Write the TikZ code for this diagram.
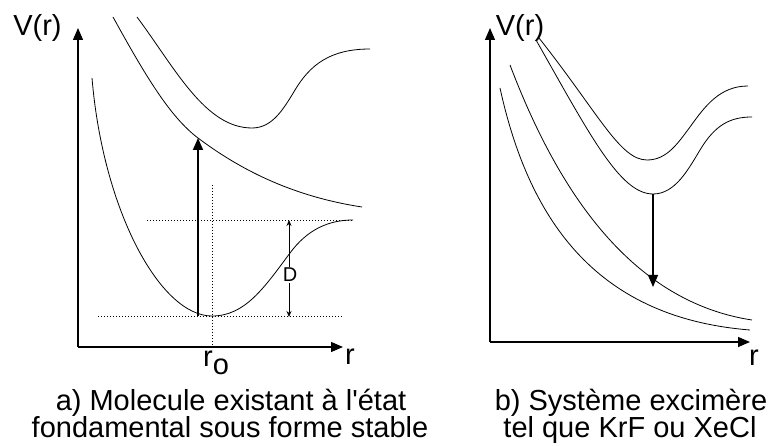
\documentclass[tikz,border=0pt]{standalone}
\usepackage{fontspec}
\setmainfont{Liberation Sans}
\newfontfamily\lsans{Liberation Sans}
\usetikzlibrary{arrows.meta}
\begin{document}
\begin{tikzpicture}[x=1pt,y=-1pt,
  curve/.style={line width=0.8pt},
  axis/.style={line width=1.1pt,-{Triangle[length=12pt,width=10pt]}},
  guide/.style={line width=0.8pt, dash pattern=on 1pt off 2pt},
  lbl/.style={font=\lsans\fontsize{29}{29}\selectfont, inner sep=0pt, anchor=base},
  captxt/.style={font=\lsans\fontsize{29}{29}\selectfont, inner sep=0pt, anchor=base},
  trans/.style={-{Triangle[length=12pt,width=10pt]}},
]
\useasboundingbox (0,0) rectangle (769,446);

% ---------- left panel ----------
\coordinate (O1) at (78,347);
\coordinate (Y1) at (78,28);
\coordinate (X1) at (343,347);
\draw[axis] (O1) -- (Y1);
\draw[axis] (O1) -- (X1);
\node[lbl] (V1) at (37.5,36) {V(r)};
\node[lbl] (R1) at (350,365) {r};
\node[lbl] (r0) at (216,367) {r\raisebox{-8pt}{o}};

% guides
\coordinate (g1a) at (147,220); \coordinate (g1b) at (353,220);
\coordinate (g2a) at (98,316);  \coordinate (g2b) at (343,316);
\coordinate (g3a) at (212,185); \coordinate (g3b) at (212,345);
\draw[guide] (g1a) -- (g1b);
\draw[guide] (g2a) -- (g2b);
\draw[guide] (g3a) -- (g3b);

% ground state
\draw[curve] (92,78) .. controls (103,210) and (160,316) .. (212,316)
  .. controls (245,316) and (264,288) .. (290,253)
  .. controls (307,230) and (328,220) .. (353,220);
% repulsive state
\draw[curve] (113,17) .. controls (145,75) and (170,117) .. (198,138)
  .. controls (238,168) and (290,196) .. (362,207);
% upper bound state
\draw[curve] (137,17) .. controls (175,68) and (205,128) .. (252,128)
  .. controls (272,128) and (283,110) .. (295,90)
  .. controls (310,65) and (330,49) .. (370,49);

% absorption arrow
\coordinate (A1s) at (198,316);
\coordinate (A1e) at (198,138);
\draw[trans, line width=1.8pt] (A1s) -- (A1e);

% D arrow
\coordinate (Dt) at (289,220);
\coordinate (Db) at (289,317);
\draw[line width=0.8pt, {Stealth[length=6pt,width=5pt]}-{Stealth[length=6pt,width=5pt]}] (Dt) -- (Db);
\node[font=\lsans\fontsize{20}{20}\selectfont, fill=white, inner sep=1pt] (D) at (290,275) {D};

% ---------- right panel ----------
\coordinate (O2) at (490,342);
\coordinate (Y2) at (490,28);
\coordinate (X2) at (750,342);
\draw[axis] (O2) -- (Y2);
\draw[axis] (O2) -- (X2);
\node[lbl] (V2) at (520,36) {V(r)};
\node[lbl] (R2) at (754,366) {r};

% repulsive curves
\draw[curve] (500,88) .. controls (530,225) and (600,318) .. (750,330);
\draw[curve] (510,65) .. controls (550,170) and (620,300) .. (752,320);
% excimer bound states
\draw[curve] (536,40) .. controls (590,135) and (620,194) .. (653,194)
  .. controls (675,194) and (688,170) .. (700,150)
  .. controls (715,125) and (730,117) .. (752,117);
\draw[curve] (539,38) .. controls (599,114) and (620,160) .. (647,160)
  .. controls (667,160) and (678,143) .. (690,127)
  .. controls (705,106) and (720,86) .. (748,86);

% emission arrow
\coordinate (A2s) at (653,194);
\coordinate (A2e) at (653,287);
\draw[trans, line width=1.2pt] (A2s) -- (A2e);

% ---------- captions ----------
\node[captxt] (ca1) at (231,410) {a) Molecule existant à l'état};
\node[captxt] (ca2) at (230,438) {fondamental sous forme stable};
\node[captxt] (cb1) at (631,410) {b) Système excimère};
\node[captxt] (cb2) at (630,438) {tel que KrF ou XeCl};
\end{tikzpicture}
\end{document}
